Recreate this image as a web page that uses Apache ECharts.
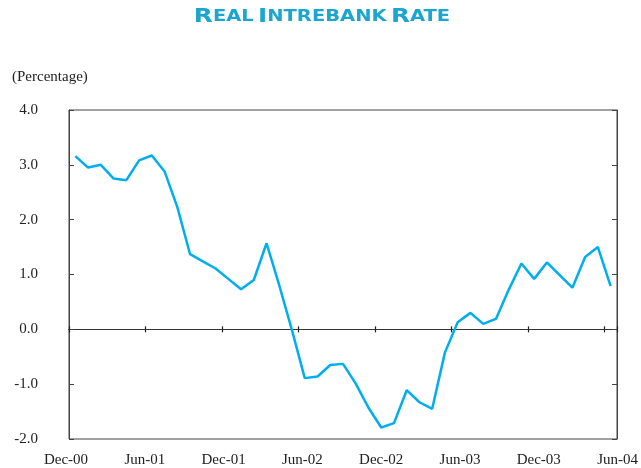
<!DOCTYPE html>
<html>
<head>
<meta charset="utf-8">
<script src="https://cdn.jsdelivr.net/npm/echarts@6/dist/echarts.min.js"></script>
<style>
  html, body { margin: 0; padding: 0; background: #fff; }
  #chart { width: 641px; height: 468px; }
</style>
</head>
<body>
<div id="chart"></div>
<script>
// monthly categories, Dec-00 .. Jun-04
const months = [
  "Dec-00", "Jan-01", "Feb-01", "Mar-01", "Apr-01", "May-01", "Jun-01", "Jul-01", "Aug-01", "Sep-01", "Oct-01", "Nov-01",
  "Dec-01", "Jan-02", "Feb-02", "Mar-02", "Apr-02", "May-02", "Jun-02", "Jul-02", "Aug-02", "Sep-02", "Oct-02", "Nov-02",
  "Dec-02", "Jan-03", "Feb-03", "Mar-03", "Apr-03", "May-03", "Jun-03", "Jul-03", "Aug-03", "Sep-03", "Oct-03", "Nov-03",
  "Dec-03", "Jan-04", "Feb-04", "Mar-04", "Apr-04", "May-04", "Jun-04"
];
// real interbank rate (%)
const rate = [
  3.16, 2.95, 3.00, 2.75, 2.72, 3.08, 3.17, 2.88, 2.23, 1.37, 1.24, 1.11,
  0.92, 0.73, 0.90, 1.57, 0.80, -0.02, -0.89, -0.86, -0.65, -0.63, -0.99, -1.43,
  -1.79, -1.71, -1.11, -1.33, -1.45, -0.42, 0.13, 0.30, 0.10, 0.19, 0.72, 1.20,
  0.92, 1.22, 0.99, 0.76, 1.32, 1.50, 0.79
];
const tickLabels = ["Dec-00", "Jun-01", "Dec-01", "Jun-02", "Dec-02", "Jun-03", "Dec-03", "Jun-04"];

const chart = echarts.init(document.getElementById("chart"));
const serif = "Liberation Serif";
const titleBlue = "#1AA6CF";

// the zero line carries the month ticks, crossing it up and down
function zeroAxis(pos) {
  return {
    type: "category",
    data: months,
    position: pos,
    boundaryGap: true,
    axisLine: { show: true, onZero: true, lineStyle: { color: "#333", width: 1.2 } },
    axisTick: { show: true, interval: 5, alignWithLabel: false, length: 3, lineStyle: { color: "#222", width: 1.2 } },
    axisLabel: { show: false },
    splitLine: { show: false }
  };
}

const option = {
  animation: false,
  graphic: [
    {
      // small-caps title, stretched wide like the original
      type: "text",
      x: 322,
      y: 8,
      scaleX: 1.3,
      style: {
        text: "{a|R}{b|EAL} {a|I}{b|NTREBANK} {a|R}{b|ATE}",
        align: "center",
        rich: {
          a: { fontFamily: "DejaVu Sans", fontWeight: "bold", fontSize: 19, fill: titleBlue },
          b: { fontFamily: "DejaVu Sans", fontWeight: "bold", fontSize: 15, fill: titleBlue }
        }
      }
    },
    {
      type: "text",
      left: 12,
      top: 70,
      style: { text: "(Percentage)", font: "15px " + serif, fill: "#222" }
    }
  ],
  grid: [
    { left: 69, right: 24, top: 110, bottom: 29, show: true, borderColor: "#444", borderWidth: 1 },
    { left: 66, right: 20, top: 110, bottom: 29 }
  ],
  xAxis: [
    zeroAxis("bottom"),
    zeroAxis("top"),
    {
      type: "category",
      gridIndex: 1,
      data: tickLabels,
      boundaryGap: false,
      axisLine: { show: false, onZero: false },
      axisTick: { show: false },
      axisLabel: { interval: 0, margin: 15, fontFamily: serif, fontSize: 15, color: "#222" }
    }
  ],
  yAxis: [
    {
      type: "value",
      min: -2,
      max: 4,
      interval: 1,
      axisLine: { show: true, lineStyle: { color: "#444" } },
      axisTick: { show: true, inside: true, length: 5, lineStyle: { color: "#444" } },
      axisLabel: {
        margin: 31,
        fontFamily: serif,
        fontSize: 15,
        color: "#222",
        formatter: v => v.toFixed(1)
      },
      splitLine: { show: false }
    },
    {
      type: "value",
      position: "right",
      min: -2,
      max: 4,
      interval: 1,
      axisLine: { show: true, lineStyle: { color: "#444" } },
      axisTick: { show: true, inside: true, length: 5, lineStyle: { color: "#444" } },
      axisLabel: { show: false },
      splitLine: { show: false }
    },
    { type: "value", gridIndex: 1, show: false }
  ],
  series: [{
    type: "line",
    data: rate,
    symbol: "none",
    lineStyle: { color: "#00AEEF", width: 2.5 }
  }]
};
chart.setOption(option);
window.addEventListener("resize", function () {
  chart.resize();
});
</script>
</body>
</html>
